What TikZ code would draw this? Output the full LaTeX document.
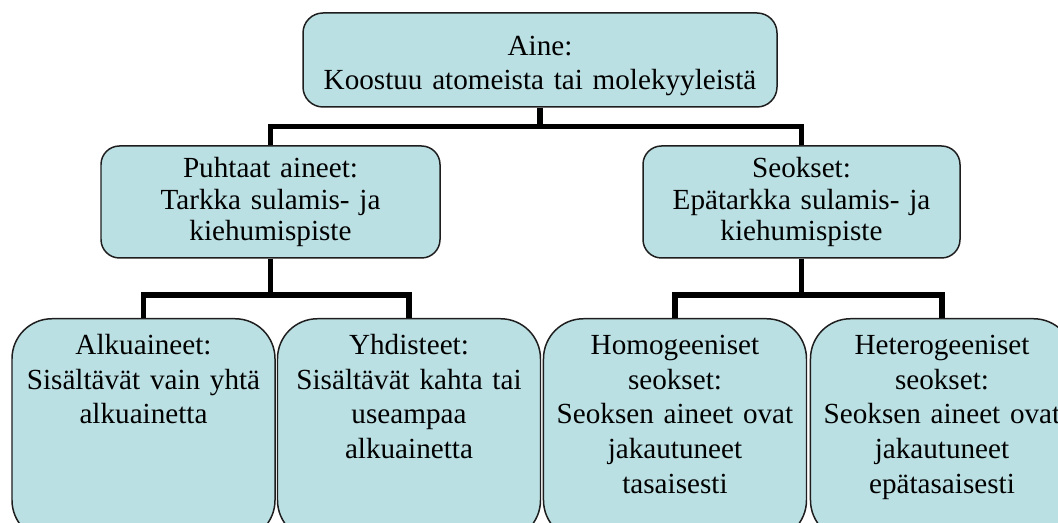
\documentclass[tikz,border=0pt]{standalone}
\usepackage{fontspec}
\setmainfont{Liberation Serif}
\usetikzlibrary{positioning}
\definecolor{boxfill}{RGB}{187,224,227}
\definecolor{boxline}{RGB}{30,30,30}

\begin{document}
\begin{tikzpicture}[
  box/.style={draw=boxline, line width=0.85pt, fill=boxfill, align=center,
    inner xsep=0.1cm, font=\fontsize{16.6pt}{19.7pt}\selectfont},
  topbox/.style={box, rounded corners=0.4cm, minimum height=1.88cm,
    text height=0.62cm},
  midbox/.style={box, rounded corners=0.37cm, minimum height=2.24cm,
    font=\fontsize{16.6pt}{18.2pt}\selectfont},
  leaf/.style={box, anchor=north, rounded corners=0.8cm, text width=5.06cm,
    text height=0.41cm, text depth=3.4cm, inner ysep=0.31cm},
  link/.style={line width=3.1pt, black}
]
  \clip (0,0) rectangle (21.16,10.46);

  % top level
  \node[topbox, text width=9.28cm] (aine) at (10.80,9.26)
    {Aine:\\Koostuu atomeista tai molekyyleistä};

  % second level
  \node[midbox, text width=6.58cm] (puhtaat) at (5.41,6.42)
    {Puhtaat aineet:\\Tarkka sulamis- ja\\kiehumispiste};
  \node[midbox, text width=6.14cm] (seokset) at (16.03,6.42)
    {Seokset:\\Epätarkka sulamis- ja\\kiehumispiste};

  % leaves
  \node[leaf] (alku) at (2.87,4.10)
    {Alkuaineet:\\Sisältävät vain yhtä\\alkuainetta};
  \node[leaf, right=0.02cm of alku] (yhd)
    {Yhdisteet:\\Sisältävät kahta tai\\useampaa\\alkuainetta};
  \node[leaf, right=0.03cm of yhd] (homo)
    {Homogeeniset\\seokset:\\Seoksen aineet ovat\\jakautuneet\\tasaisesti};
  \node[leaf, right=0.05cm of homo] (hetero)
    {Heterogeeniset\\seokset:\\Seoksen aineet ovat\\jakautuneet\\epätasaisesti};

  % connectors
  \draw[link] (aine.south) -- ++(0,-0.40);
  \draw[link] (puhtaat.north) -- ++(0,0.38) -| (seokset.north);
  \draw[link] (puhtaat.south) -- ++(0,-0.74);
  \draw[link] (alku.north) -- ++(0,0.46) -| (yhd.north);
  \draw[link] (seokset.south) -- ++(0,-0.74);
  \draw[link] (homo.north) -- ++(0,0.46) -| (hetero.north);
\end{tikzpicture}
\end{document}
